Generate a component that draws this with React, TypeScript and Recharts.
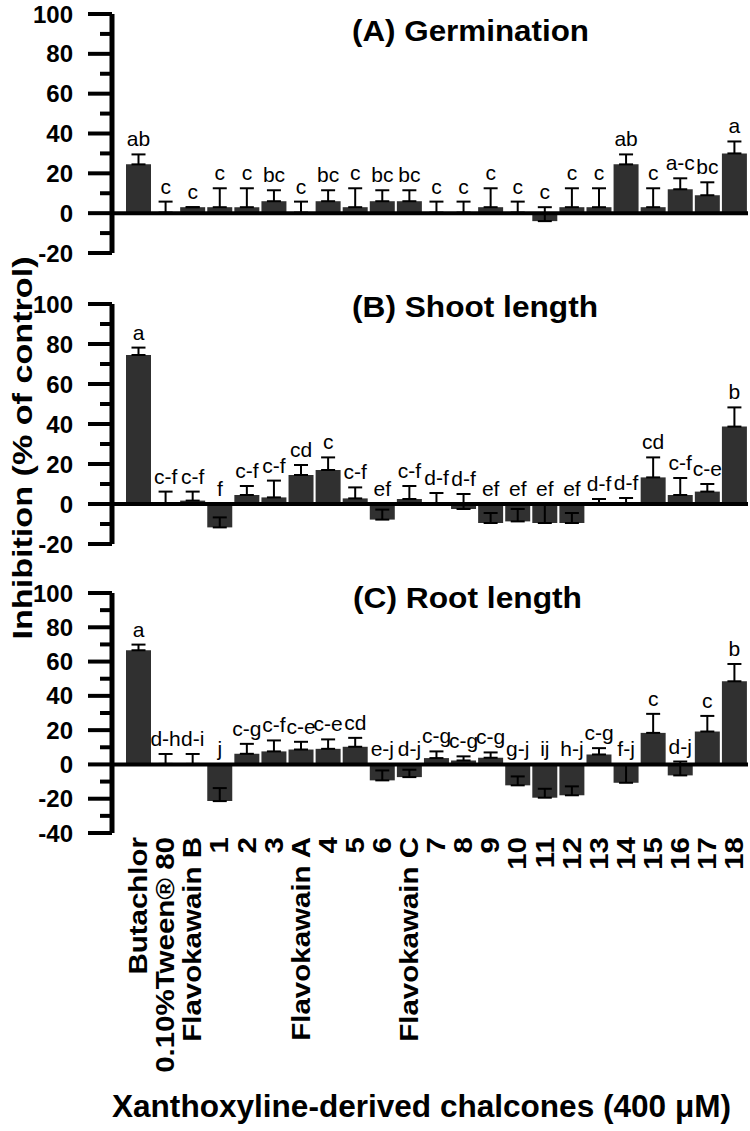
import React from 'react';
import { ComposedChart, Bar, Line, XAxis, YAxis, ErrorBar, ReferenceLine } from 'recharts';

const categories = [
  'Butachlor', '0.10%Tween® 80', 'Flavokawain B', '1', '2', '3', 'Flavokawain A', '4', '5', '6',
  'Flavokawain C', '7', '8', '9', '10', '11', '12', '13', '14', '15', '16', '17', '18',
];

// (A) Germination
const germination = [24.5, 0.3, 3, 3, 3, 6, 0.3, 6, 3, 6, 6, 0.3, 0.3, 3, 0.3, -4, 3, 3, 24.5, 3, 12, 9, 30];
const germinationErr = [5, 5.5, 0, 9.5, 9.5, 5.5, 5.5, 5.5, 9.5, 5.5, 5.5, 5.5, 5.5, 9.5, 5.5, 7, 9.5, 9.5, 5, 9.5, 5.5, 6.5, 6];
const germinationLetters = ['ab', 'c', 'c', 'c', 'c', 'bc', 'c', 'bc', 'c', 'bc', 'bc', 'c', 'c', 'c', 'c', 'c', 'c', 'c', 'ab', 'c', 'a-c', 'bc', 'a'];

// (B) Shoot length
const shoot = [74.5, 0.5, 1.7, -11.7, 4.5, 3.3, 14.5, 17, 2.8, -7.8, 2.5, -0.5, -2.5, -9.5, -8.7, -9.5, -9.5, 0.5, -0.5, 13.3, 4.5, 6.2, 38.7];
const shootErr = [3.7, 5.7, 4.5, 5, 4.5, 8.4, 5, 6.3, 5.5, 5, 6.5, 6, 7.5, 5, 6.2, 9, 5, 2, 3.5, 10, 8.5, 3.8, 9.6];
const shootLetters = ['a', 'c-f', 'c-f', 'f', 'c-f', 'c-f', 'cd', 'c', 'c-f', 'ef', 'c-f', 'd-f', 'd-f', 'ef', 'ef', 'ef', 'ef', 'd-f', 'd-f', 'cd', 'c-f', 'c-e', 'b'];

// (C) Root length
const root = [66.6, 0.3, 0.3, -21.4, 6.2, 7.6, 8.7, 9.1, 10.3, -9.3, -7.4, 3.7, 2.3, 3.9, -12.2, -19.4, -18, 5.8, -10.7, 18.4, -6.4, 19.2, 48.5];
const rootErr = [3.3, 5.8, 5.8, 7.6, 5.8, 6.4, 4.5, 5.5, 5.2, 5.8, 4.3, 3.9, 2.4, 3.1, 5.2, 5.2, 5.2, 3.7, 10.7, 11.1, 8.1, 9.1, 10.1];
const rootLetters = ['a', 'd-h', 'd-i', 'j', 'c-g', 'c-f', 'c-e', 'c-e', 'cd', 'e-j', 'd-j', 'c-g', 'c-g', 'c-g', 'g-j', 'ij', 'h-j', 'c-g', 'f-j', 'c', 'd-j', 'c', 'b'];

const ticksAB = [-20, -10, 0, 10, 20, 30, 40, 50, 60, 70, 80, 90, 100];
const ticksC = [-40, -30, -20, -10, 0, 10, 20, 30, 40, 50, 60, 70, 80, 90, 100];

const FONT = "'Liberation Sans', Arial, Helvetica, sans-serif";
const NARROW = "'Liberation Sans Narrow', 'Arial Narrow', sans-serif";

function buildRows(values: number[], errs: number[], letters: string[]) {
  return categories.map((name, i) => ({
    name,
    value: values[i],
    err: [0, errs[i]],
    top: Math.max(values[i] + errs[i], 0),
    letter: letters[i],
  }));
}

const YTick = (props: any) => {
  const { x, y, payload } = props;
  const v = payload.value;
  const major = v % 20 === 0;
  return (
    <g>
      <line x1={x - (major ? 24 : 12)} x2={x} y1={y} y2={y} stroke="#000" strokeWidth={4} />
      {major && (
        <text x={x - 39} y={y} textAnchor="end" dominantBaseline="central" fontSize={24} fontWeight="bold" fontFamily={FONT} fill="#000">
          {v}
        </text>
      )}
    </g>
  );
};

const XTick = (props: any) => {
  const { x, y, payload } = props;
  return (
    <text
      transform={`translate(${x},${y}) rotate(-90) scale(1.18,1)`}
      textAnchor="end"
      dominantBaseline="central"
      fontSize={25}
      fontWeight="bold"
      fontFamily={FONT}
      fill="#000"
    >
      {payload.value}
    </text>
  );
};

// letters of the significance groups sit just above the error bar (or above zero)
const LetterDot = (props: any) => {
  const { cx, cy, payload, index } = props;
  return (
    <text key={`l-${index}`} x={cx} y={cy - 8} textAnchor="middle" fontSize={21} fontFamily={FONT} fill="#000">
      {payload.letter}
    </text>
  );
};

function Panel({ rows, ticks, height, margin, showX }: any) {
  return (
    <ComposedChart width={750} height={height} data={rows} margin={margin}>
      <XAxis
        dataKey="name"
        type="category"
        hide={!showX}
        height={showX ? 298 : 0}
        padding={{ left: 13, right: 0 }}
        axisLine={false}
        tickLine={false}
        tickSize={0}
        tickMargin={4}
        interval={0}
        tick={<XTick />}
      />
      <YAxis
        type="number"
        domain={[ticks[0], 100]}
        ticks={ticks}
        interval={0}
        width={112}
        axisLine={{ stroke: '#000', strokeWidth: 5 }}
        tickLine={false}
        tickSize={0}
        tickMargin={0}
        tick={<YTick />}
      />
      <Bar dataKey="value" fill="#303030" barSize={25} isAnimationActive={false}>
        <ErrorBar dataKey="err" direction="y" width={7} stroke="#000" strokeWidth={2} />
      </Bar>
      <ReferenceLine y={0} stroke="#000" strokeWidth={4} />
      <Line dataKey="top" stroke="none" dot={LetterDot} activeDot={false} isAnimationActive={false} />
    </ComposedChart>
  );
}

export default function App() {
  const rowsA = buildRows(germination, germinationErr, germinationLetters);
  const rowsB = buildRows(shoot, shootErr, shootLetters);
  const rowsC = buildRows(root, rootErr, rootLetters);

  return (
    <div style={{ position: 'absolute', left: 0, top: 0, width: 750, height: 1131, background: '#fff', fontFamily: FONT }}>
      <div style={{ position: 'absolute', left: 0, top: 0 }}>
        <Panel rows={rowsA} ticks={ticksAB} height={270} margin={{ top: 14, right: 2, bottom: 17, left: 0 }} showX={false} />
      </div>
      <div style={{ position: 'absolute', left: 0, top: 280 }}>
        <Panel rows={rowsB} ticks={ticksAB} height={280} margin={{ top: 24, right: 2, bottom: 16, left: 0 }} showX={false} />
      </div>
      <div style={{ position: 'absolute', left: 0, top: 560 }}>
        <Panel rows={rowsC} ticks={ticksC} height={571} margin={{ top: 33, right: 2, bottom: 0, left: 0 }} showX={true} />
      </div>
      <svg width={750} height={1131} style={{ position: 'absolute', left: 0, top: 0, pointerEvents: 'none' }}>
        <g fontFamily={FONT} fontWeight="bold" fill="#000">
          <text x={352} y={41} fontSize={29} textLength={237} lengthAdjust="spacingAndGlyphs">(A) Germination</text>
          <text x={352} y={317} fontSize={29} textLength={246} lengthAdjust="spacingAndGlyphs">(B) Shoot length</text>
          <text x={353} y={608} fontSize={29} textLength={229} lengthAdjust="spacingAndGlyphs">(C) Root length</text>
          <text
            transform="translate(32,448) rotate(-90)"
            textAnchor="middle"
            fontSize={28}
            textLength={383}
            lengthAdjust="spacingAndGlyphs"
          >
            Inhibition (% of control)
          </text>
          <text x={112} y={1117} fontSize={32} fontFamily={NARROW} textLength={619} lengthAdjust="spacingAndGlyphs">
            Xanthoxyline-derived chalcones (400 μM)
          </text>
        </g>
      </svg>
    </div>
  );
}
